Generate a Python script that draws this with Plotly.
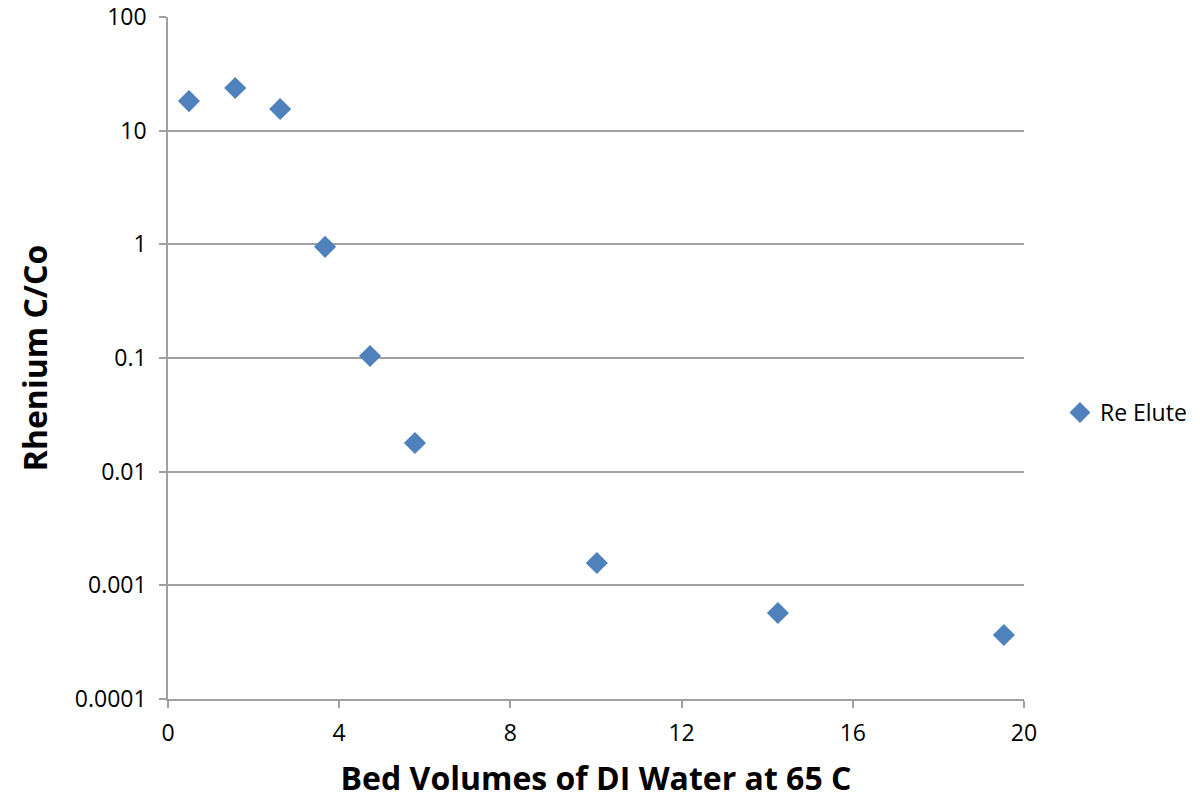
import plotly.graph_objects as go

bed_volumes = [0.49, 1.57, 2.62, 3.67, 4.72, 5.77, 10.02, 14.25, 19.53]
re_c_co = [18.2, 23.7, 15.5, 0.95, 0.104, 0.0179, 0.00157, 0.000571, 0.000366]
x_ticks = [0, 4, 8, 12, 16, 20]
y_ticks = [0.0001, 0.001, 0.01, 0.1, 1, 10, 100]
y_tick_text = ["0.0001", "0.001", "0.01", "0.1", "1", "10", "100"]

FONT = "Open Sans"

fig = go.Figure()
fig.add_trace(go.Scatter(
    x=bed_volumes, y=re_c_co, mode="markers", name="Re Elute",
    marker=dict(symbol="diamond", size=17, color="#4F81BD"),
))

fig.update_layout(
    width=1200, height=803,
    margin=dict(l=168, r=176, t=17, b=104, autoexpand=False),
    paper_bgcolor="white", plot_bgcolor="white",
    font=dict(family=FONT, size=23, color="black"),
    showlegend=True,
    legend=dict(x=1.042, y=0.42, xanchor="left", yanchor="middle",
                xref="paper", yref="paper", font=dict(size=23),
                itemwidth=30, bgcolor="rgba(0,0,0,0)"),
    xaxis=dict(
        range=[0, 20], tickvals=x_ticks, ticktext=[str(v) for v in x_ticks],
        showgrid=False, zeroline=False, automargin=False,
        showline=True, linecolor="#A0A0A0", linewidth=1.5,
        ticks="outside", ticklen=7, tickcolor="#A0A0A0", tickwidth=1.5,
        tickfont=dict(size=23), ticklabelstandoff=6,
        title=dict(text="<b>Bed Volumes of DI Water at 65 C</b>", font=dict(size=32), standoff=20),
    ),
    yaxis=dict(
        type="log", range=[-4, 2], tickvals=y_ticks, ticktext=y_tick_text,
        showgrid=True, gridcolor="#A0A0A0", gridwidth=1.5,
        zeroline=False, automargin=False,
        showline=True, linecolor="#A0A0A0", linewidth=1.5,
        ticks="outside", ticklen=7, tickcolor="#A0A0A0", tickwidth=1.5,
        tickfont=dict(size=23), ticklabelstandoff=8,
        title=dict(text="<b>Rhenium C/Co</b>", font=dict(size=32), standoff=18),
    ),
)

fig.write_html("out.html")
